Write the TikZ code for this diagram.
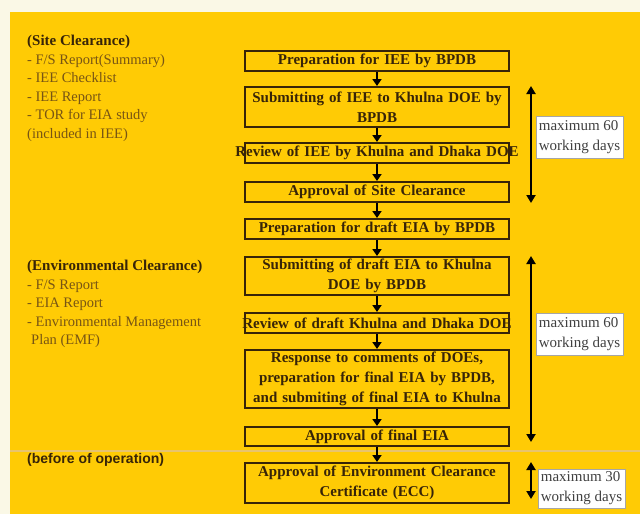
\documentclass[tikz,border=0pt]{standalone}
\usepackage{fontspec}
\setmainfont{Liberation Serif}
\newfontfamily\headsans{Liberation Sans}
\usepackage{xcolor}
\usetikzlibrary{arrows.meta,positioning}

\definecolor{paleback}{RGB}{250,248,230}
\definecolor{flowyellow}{RGB}{255,203,5}
\definecolor{boxbrown}{RGB}{55,36,8}
\definecolor{listbrown}{RGB}{120,85,20}
\definecolor{sepline}{RGB}{232,196,110}

\tikzset{
  stepbox/.style={draw=boxbrown, line width=2pt, fill=flowyellow, text=boxbrown,
    text width=256pt, align=center, inner xsep=4pt, inner ysep=2pt,
    font=\fontsize{15}{20}\selectfont\bfseries},
  flow/.style={-{Triangle[width=9pt,length=7pt]}, line width=2pt, black},
  span/.style={{Triangle[width=9pt,length=8pt]}-{Triangle[width=9pt,length=8pt]}, line width=2.2pt, black},
  daysbox/.style={draw=gray!70, fill=white, text=black!75, align=left,
    inner xsep=1pt, inner ysep=2pt, minimum width=87pt, minimum height=42pt,
    font=\fontsize{15}{20}\selectfont},
  sidenote/.style={anchor=north west, align=left, inner sep=0pt, text=listbrown,
    font=\fontsize{14.5}{18.5}\selectfont}
}

\begin{document}
\begin{tikzpicture}[x=1pt,y=-1pt]
\useasboundingbox (0,0) rectangle (640,514);
\fill[paleback] (0,0) rectangle (640,514);
\fill[flowyellow] (10,12) rectangle (640,514);
\draw[sepline, line width=1.5pt] (10,451) -- (640,451);

% left hand notes
\node[sidenote] (sitelist) at (27,35) {{\bfseries\fontsize{15}{18.5}\selectfont\color{boxbrown}(Site Clearance)}\\- F/S Report(Summary)\\- IEE Checklist\\- IEE Report\\- TOR for EIA study\\(included in IEE)};
\node[sidenote] (envlist) at (27,260) {{\bfseries\fontsize{15}{18.5}\selectfont\color{boxbrown}(Environmental Clearance)}\\- F/S Report\\- EIA Report\\- Environmental Management\\\hspace*{4pt}Plan (EMF)};
\node[anchor=west, inner sep=0pt, text=boxbrown, font=\headsans\bfseries\fontsize{14}{16}\selectfont] (beforeop) at (27,460) {(before of operation)};

% flow boxes
\node[stepbox, minimum height=20pt] (prepiee) at (377,61) {Preparation for IEE by BPDB};
\node[stepbox, minimum height=40pt] (subiee) at (377,107) {\makebox[256pt]{Submitting of IEE to Khulna DOE by}\\BPDB};
\node[stepbox, minimum height=20pt] (reviee) at (377,153) {\makebox[256pt]{Review of IEE by Khulna and Dhaka DOE}};
\node[stepbox, minimum height=20pt] (apprsite) at (377,192) {Approval of Site Clearance};
\node[stepbox, minimum height=20pt] (prepeia) at (377,229) {Preparation for draft EIA by BPDB};
\node[stepbox, minimum height=38pt] (subeia) at (377,276) {Submitting of draft EIA to Khulna\\DOE by BPDB};
\node[stepbox, minimum height=20pt] (reveia) at (377,323) {\makebox[256pt]{Review of draft Khulna and Dhaka DOE}};
\node[stepbox, minimum height=58pt] (respeia) at (377,379) {Response to comments of DOEs,\\preparation for final EIA by BPDB,\\and submiting of final EIA to Khulna};
\node[stepbox, minimum height=19pt] (appreia) at (377,436.5) {Approval of final EIA};
\node[stepbox, minimum height=40pt] (apprecc) at (377,483) {Approval of Environment Clearance\\Certificate (ECC)};

\foreach \a/\b in {prepiee/subiee, subiee/reviee, reviee/apprsite, apprsite/prepeia,
  prepeia/subeia, subeia/reveia, reveia/respeia, respeia/appreia, appreia/apprecc}
  \draw[flow] (\a) -- (\b);

% time spans
\coordinate (rail) at (531,0);
\draw[span] (rail |- subiee.north) -- (rail |- apprsite.south);
\draw[span] (rail |- subeia.north) -- ([yshift=5pt]rail |- appreia.south);
\draw[span] (rail |- apprecc.north) -- ([yshift=5pt]rail |- apprecc.south);

\node[daysbox] (days1) at (579.5,137) {maximum 60\\working days};
\node[daysbox] (days2) at (579.5,334) {maximum 60\\working days};
\node[daysbox, minimum height=39pt] (days3) at (581.5,488.5) {maximum 30\\working days};
\end{tikzpicture}
\end{document}
